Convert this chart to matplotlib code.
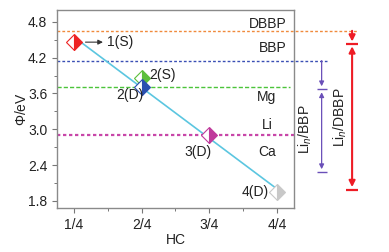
import matplotlib.pyplot as plt
from matplotlib.ticker import MultipleLocator

plt.rcParams['font.family'] = ['Liberation Sans', 'DejaVu Sans']
plt.rcParams['mathtext.fontset'] = 'custom'
plt.rcParams['mathtext.it'] = 'Liberation Sans:italic'
plt.rcParams['mathtext.rm'] = 'Liberation Sans'

# data points (HC in quarters, work function in eV)
hc = [1, 2, 2, 3, 4]
phi = [4.46, 3.86, 3.71, 2.91, 1.95]
pt_labels = ['1(S)', '2(S)', '2(D)', '3(D)', '4(D)']
pt_colors = ['#ee2424', '#5cbf3c', '#2a4fb0', '#c03a9c', '#c8c8c8']

# reference levels
lvl_names = ['DBBP', 'BBP', 'Mg', 'Li/Ca']
lvl_vals = [4.65, 4.15, 3.70, 2.90]
lvl_colors = ['#f08a3c', '#3a4fb4', '#4cc43a', '#c846a8']
lvl_styles = [(0, (2, 1.5)), (0, (2, 1.5)), (0, (3, 1.5)), (0, (1.5, 1.2))]
lvl_widths = [1.0, 1.0, 1.0, 1.6]
lvl_xend = [5.19, 4.74, 4.19, 4.25]

# fitted trend line
trend_x = [1.02, 4.0]
trend_y = [4.53, 2.0]

FS = 10
TC = '#222222'

fig = plt.figure(figsize=(3.89, 2.52), dpi=100)
ax = fig.add_axes([0.1465, 0.1746, 0.609, 0.786])
ax.set_xlim(0.75, 4.25)
ax.set_ylim(1.68, 5.0)

for v, c, ls, lw, xe in zip(lvl_vals, lvl_colors, lvl_styles, lvl_widths, lvl_xend):
    ax.plot([0.75, xe], [v, v], color=c, ls=ls, lw=lw, clip_on=False, zorder=1)

ax.plot(trend_x, trend_y, color='#5bc6e0', lw=1.2, zorder=2)

for x, y, c in zip(hc, phi, pt_colors):
    ax.plot(x, y, marker='D', ms=8.5, fillstyle='right', color=c,
            markerfacecoloralt='white', markeredgecolor=c, mew=0.8, zorder=3)

# point labels
ax.annotate('', xy=(1.47, 4.46), xytext=(1.13, 4.46),
            arrowprops=dict(arrowstyle='-|>', color='#333333', lw=0.8, mutation_scale=7))
ax.text(1.49, 4.46, pt_labels[0], fontsize=FS, va='center', ha='left', color=TC)
ax.text(2.12, 3.91, pt_labels[1], fontsize=FS, va='center', ha='left', color=TC)
ax.text(1.83, 3.58, pt_labels[2], fontsize=FS, va='center', ha='center', color=TC)
ax.text(2.84, 2.62, pt_labels[3], fontsize=FS, va='center', ha='center', color=TC)
ax.text(3.88, 1.94, pt_labels[4], fontsize=FS, va='center', ha='right', color=TC)

# level labels
ax.text(4.15, 4.77, 'DBBP', fontsize=FS, ha='right', va='center', color=TC)
ax.text(4.15, 4.37, 'BBP', fontsize=FS, ha='right', va='center', color=TC)
ax.text(3.85, 3.54, 'Mg', fontsize=FS, ha='center', va='center', color=TC)
ax.text(3.85, 3.07, 'Li', fontsize=FS, ha='center', va='center', color=TC)
ax.text(3.85, 2.62, 'Ca', fontsize=FS, ha='center', va='center', color=TC)

# purple range marker
px = 4.66
pc = '#6a4fb8'
ax.annotate('', xy=(px, 3.72), xytext=(px, 4.15), annotation_clip=False,
            arrowprops=dict(arrowstyle='-|>', color=pc, lw=0.9, mutation_scale=7, shrinkA=0, shrinkB=0))
ax.annotate('', xy=(px, 2.33), xytext=(px, 3.62), annotation_clip=False,
            arrowprops=dict(arrowstyle='<|-|>', color=pc, lw=0.9, mutation_scale=7, shrinkA=0, shrinkB=0))
ax.plot([px, px], [3.67, 2.29], ls='none', marker='_', ms=7, mew=1.0, color=pc, clip_on=False)
ax.text(4.42, 3.0, 'Li$_{\\it{n}}$/BBP', fontsize=FS, rotation=90, ha='center', va='center', color=TC)

# red range marker
rx = 5.11
rc = '#ee1c25'
ax.annotate('', xy=(rx, 4.47), xytext=(rx, 4.65), annotation_clip=False,
            arrowprops=dict(arrowstyle='-|>', color=rc, lw=1.5, mutation_scale=9, shrinkA=0, shrinkB=0))
ax.annotate('', xy=(rx, 2.03), xytext=(rx, 4.39), annotation_clip=False,
            arrowprops=dict(arrowstyle='<|-|>', color=rc, lw=1.5, mutation_scale=9, shrinkA=0, shrinkB=0))
ax.plot([rx, rx], [4.43, 1.98], ls='none', marker='_', ms=9, mew=1.6, color=rc, clip_on=False)
ax.text(4.94, 3.2, 'Li$_{\\it{n}}$/DBBP', fontsize=FS, rotation=90, ha='center', va='center', color=TC)

# axes styling
ax.set_xticks([1, 2, 3, 4])
ax.set_xticklabels(['1/4', '2/4', '3/4', '4/4'])
ax.xaxis.set_minor_locator(MultipleLocator(0.5))
ax.set_yticks([1.8, 2.4, 3.0, 3.6, 4.2, 4.8])
ax.yaxis.set_minor_locator(MultipleLocator(0.3))
ax.tick_params(which='both', direction='out', top=False, right=False,
               color='#777777', labelsize=FS, labelcolor=TC)
ax.tick_params(which='major', length=3.5, width=0.8)
ax.tick_params(which='minor', length=2, width=0.7)
for s in ax.spines.values():
    s.set_color('#8a8a8a')
    s.set_linewidth(1.0)
ax.set_xlabel('HC', fontsize=FS, color=TC, labelpad=1)
ax.set_ylabel('$\\mathit{Φ}$/eV', fontsize=FS, color=TC, labelpad=-1)

fig.savefig('out.png', dpi=100)
